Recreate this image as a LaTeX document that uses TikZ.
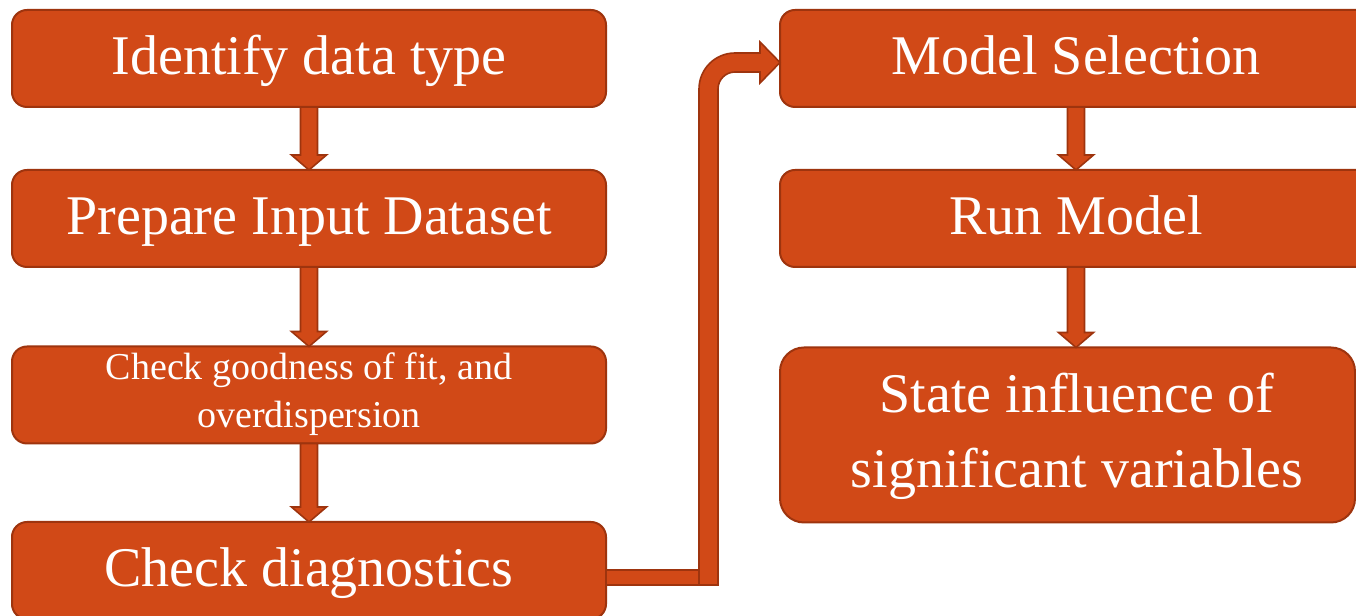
\documentclass[tikz,border=0pt]{standalone}
\usepackage{fontspec}
\setmainfont{Liberation Serif}
\usetikzlibrary{calc}
\definecolor{boxfill}{RGB}{209,73,23}
\definecolor{boxline}{RGB}{158,52,14}
\newcommand\flowdown[2]{%
  \coordinate (tip) at (#1.south |- #2.north);
  \draw[flow] ($(#1.south)+(-8.5,0)$) -- ($(tip)+(-8.5,15)$) -- ($(tip)+(-17.5,15)$)
    -- (tip) -- ($(tip)+(17.5,15)$) -- ($(tip)+(8.5,15)$) -- ($(#1.south)+(8.5,0)$) -- cycle;}
\begin{document}
\begin{tikzpicture}[x=0.75pt,y=0.75pt,
  stepbox/.style={rectangle, rounded corners=11.25pt, fill=boxfill, draw=boxline, line width=1.5pt,
    inner sep=0pt, outer sep=0pt, text=white, font=\fontsize{42}{50}\selectfont,
    text height=31pt, text depth=6.25pt, minimum height=72.75pt},
  flow/.style={fill=boxfill, draw=boxline, line width=1.2pt, line join=miter},
  txt/.style={text=white, inner sep=0pt, anchor=base}]
\useasboundingbox (0,0) rectangle (1356,616);
\clip (0,0) rectangle (1356,616);
\fill[white] (0,0) rectangle (1356,616);
% left column
\node[stepbox, minimum width=445.5pt] (b1) at (309,557.5) {Identify data type};
\node[stepbox, minimum width=445.5pt] (b2) at (309,397.5) {Prepare Input Dataset};
\node[stepbox, minimum width=445.5pt] (b3) at (309,221) {};
\node[txt, font=\fontsize{28.5}{36}\selectfont] (t3a) at ($(b3.center)+(0,15)$) {Check goodness of fit, and};
\node[txt, font=\fontsize{28.5}{36}\selectfont] (t3b) at ($(b3.center)+(0,-33)$) {overdispersion};
\node[stepbox, minimum width=445.5pt] (b4) at (309,45.5) {Check diagnostics};
% right column
\node[stepbox, minimum width=444pt] (b5) at (1076,557.5) {Model Selection};
\node[stepbox, minimum width=444pt] (b6) at (1076,397.5) {Run Model};
\node[stepbox, minimum width=431.25pt, minimum height=131.25pt, rounded corners=18pt] (b7) at (1067.5,181) {};
\node[txt, font=\fontsize{42}{50}\selectfont] (t7a) at ($(b7.center)+(9.5,22)$) {State influence of};
\node[txt, font=\fontsize{42}{50}\selectfont] (t7b) at ($(b7.center)+(9.5,-53)$) {significant variables};
% straight arrows
\flowdown{b1}{b2}
\flowdown{b2}{b3}
\flowdown{b3}{b4}
\flowdown{b5}{b6}
\flowdown{b6}{b7}
% bent arrow
\coordinate (T) at ($(b5.west)+(0,-4)$);
\coordinate (B) at ($(b4.east)+(0,-14.5)$);
\coordinate (xo) at ($(T)+(-81,0)$);
\coordinate (xi) at ($(T)+(-62,0)$);
\draw[flow] ($(b4.east)+(0,0.5)$) rectangle (xo |- B);
\draw[flow] (xo |- B) -- ($(T)+(-81,-26.5)$) arc[start angle=180,end angle=90,radius=36]
  -- ($(T)+(-20,9.5)$) -- ($(T)+(-20,20.5)$) -- (T) -- ($(T)+(-20,-20.5)$) -- ($(T)+(-20,-9.5)$)
  -- ($(T)+(-45,-9.5)$) arc[start angle=90,end angle=180,radius=17] -- (xi |- B) -- cycle;
\end{tikzpicture}
\end{document}
